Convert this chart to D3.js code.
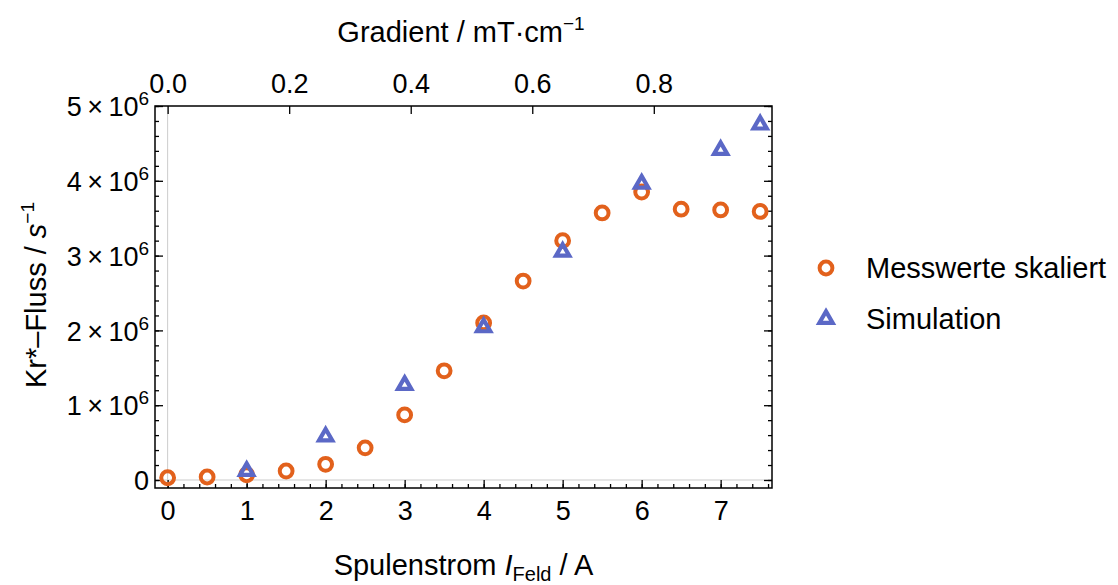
<!DOCTYPE html>
<html>
<head>
<meta charset="utf-8">
<script src="https://cdn.jsdelivr.net/npm/d3@7"></script>
<style>
  body { margin: 0; background: #fff; }
  text { font-family: "Liberation Sans", Arial, sans-serif; fill: #000; }
</style>
</head>
<body>
<div id="chart"></div>
<script>
// current in A
const messX = [0, 0.5, 1, 1.5, 2, 2.5, 3, 3.5, 4, 4.5, 5, 5.5, 6, 6.5, 7, 7.5];
const messY = [0.03e6, 0.04e6, 0.07e6, 0.12e6, 0.21e6, 0.43e6, 0.87e6, 1.46e6, 2.1e6, 2.66e6, 3.2e6, 3.57e6, 3.85e6, 3.62e6, 3.61e6, 3.59e6];
const simX = [1, 2, 3, 4, 5, 6, 7, 7.5];
const simY = [0.12e6, 0.58e6, 1.27e6, 2.04e6, 3.05e6, 3.96e6, 4.41e6, 4.75e6];
const xTicks = [0, 1, 2, 3, 4, 5, 6, 7];
const yTicks = [0, 1e6, 2e6, 3e6, 4e6, 5e6];
const topTicks = [0, 0.2, 0.4, 0.6, 0.8];
const gradPerAmp = 0.13; // mT/cm per A
const legendLabels = ["Messwerte skaliert", "Simulation"];

const W = 1118, H = 585;
const m = { left: 155, right: W - 772, top: 106, bottom: H - 488 };
const width = W - m.left - m.right, height = H - m.top - m.bottom;
const orange = "#E2611C", blue = "#5B68C6";
const tickFont = "27px", titleFont = "29px";

const svg = d3.select("#chart").append("svg").attr("width", W).attr("height", H);
const g = svg.append("g").attr("transform", `translate(${m.left},${m.top})`);

const x = d3.scaleLinear().domain([-0.16, 7.65]).range([0, width]);
const y = d3.scaleLinear().domain([-0.107e6, 5e6]).range([height, 0]);
const xTop = d3.scaleLinear().domain(x.domain().map(d => d * gradPerAmp)).range([0, width]);

const minorX = d3.range(-0.2, 7.7, 0.2).filter(v => v > x.domain()[0] && v < x.domain()[1]);
const minorY = d3.range(0, 5.01e6, 0.2e6);

// zero lines
g.append("line").attr("x1", x(0)).attr("x2", x(0)).attr("y1", 0).attr("y2", height)
  .attr("stroke", "#ccc").attr("stroke-width", 1);
g.append("line").attr("x1", 0).attr("x2", width).attr("y1", y(0)).attr("y2", y(0))
  .attr("stroke", "#ccc").attr("stroke-width", 1);

function styleAxis(sel) {
  sel.select(".domain").remove();
  sel.selectAll(".tick line").attr("stroke", "#000").attr("stroke-width", 1.3);
  sel.selectAll("text").style("font-size", tickFont).style("font-family", "'Liberation Sans', Arial, sans-serif");
}

// minor ticks
g.append("g").attr("transform", `translate(0,${height})`)
  .call(d3.axisBottom(x).tickValues(minorX).tickSize(-4).tickFormat(""))
  .call(styleAxis);
g.append("g").call(d3.axisLeft(y).tickValues(minorY).tickSize(-4).tickFormat("")).call(styleAxis);
g.append("g").attr("transform", `translate(${width},0)`)
  .call(d3.axisRight(y).tickValues(minorY).tickSize(-4).tickFormat("")).call(styleAxis);

// major ticks
g.append("g").attr("transform", `translate(0,${height})`)
  .call(d3.axisBottom(x).tickValues(xTicks).tickSize(-8).tickPadding(13).tickFormat(d3.format("d")))
  .call(styleAxis)
  .call(s => s.selectAll("text").attr("dy", "0.71em"));
g.append("g")
  .call(d3.axisTop(xTop).tickValues(topTicks).tickSize(-8).tickPadding(13).tickFormat(d3.format(".1f")))
  .call(styleAxis);
g.append("g").attr("transform", `translate(${width},0)`)
  .call(d3.axisRight(y).tickValues(yTicks).tickSize(-8).tickFormat("")).call(styleAxis);

const yAx = g.append("g")
  .call(d3.axisLeft(y).tickValues(yTicks).tickSize(-8).tickFormat(""))
  .call(styleAxis);
yAx.selectAll(".tick").each(function (d) {
  const t = d3.select(this).append("text").attr("x", -6).attr("dy", "0.36em")
    .attr("text-anchor", "end").style("font-size", tickFont);
  if (d === 0) { t.text("0"); return; }
  t.append("tspan").text(`${d / 1e6}\u2009\u00d7\u200910`);
  t.append("tspan").attr("dy", -11).style("font-size", "19px").text("6");
});

// frame
g.append("rect").attr("width", width).attr("height", height)
  .attr("fill", "none").attr("stroke", "#000").attr("stroke-width", 1.5);

// markers
const tri = d3.symbol().type(d3.symbolTriangle).size(76);
function drawCircle(sel, cx, cy) {
  sel.append("circle").attr("cx", cx).attr("cy", cy).attr("r", 6.4)
    .attr("fill", "none").attr("stroke", orange).attr("stroke-width", 4);
}
function drawTri(sel, cx, cy) {
  sel.append("path").attr("d", tri).attr("transform", `translate(${cx},${cy})`)
    .attr("fill", "none").attr("stroke", blue).attr("stroke-width", 4.2).attr("stroke-linejoin", "miter");
}
const pts = g.append("g");
messX.forEach((v, i) => drawCircle(pts, x(v), y(messY[i])));
simX.forEach((v, i) => drawTri(pts, x(v), y(simY[i])));

// axis titles
const xl = svg.append("text").attr("x", m.left + width / 2).attr("y", 575)
  .attr("text-anchor", "middle").style("font-size", titleFont);
xl.append("tspan").text("Spulenstrom ");
xl.append("tspan").style("font-style", "italic").text("I");
xl.append("tspan").attr("dy", 6).style("font-size", "20px").text("Feld");
xl.append("tspan").attr("dy", -6).text(" / A");

const tl = svg.append("text").attr("x", 461).attr("y", 42)
  .attr("text-anchor", "middle").style("font-size", titleFont);
tl.append("tspan").text("Gradient / mT\u00b7cm");
tl.append("tspan").attr("dy", -12).style("font-size", "19px").text("\u22121");

const yl = svg.append("text").attr("transform", `translate(46,${m.top + height / 2 - 2}) rotate(-90)`)
  .attr("text-anchor", "middle").style("font-size", titleFont);
yl.append("tspan").text("Kr*\u2013Fluss / ");
yl.append("tspan").style("font-style", "italic").text("s");
yl.append("tspan").attr("dy", -12).style("font-size", "19px").text("\u22121");

// legend
const lg = svg.append("g").attr("transform", "translate(826,268)");
drawCircle(lg, 0, 0);
drawTri(lg, 0, 51);
lg.selectAll("text.lbl").data(legendLabels).enter().append("text")
  .attr("x", 40).attr("y", (d, i) => i * 51).attr("dy", "0.36em")
  .style("font-size", titleFont).text(d => d);
</script>
</body>
</html>
